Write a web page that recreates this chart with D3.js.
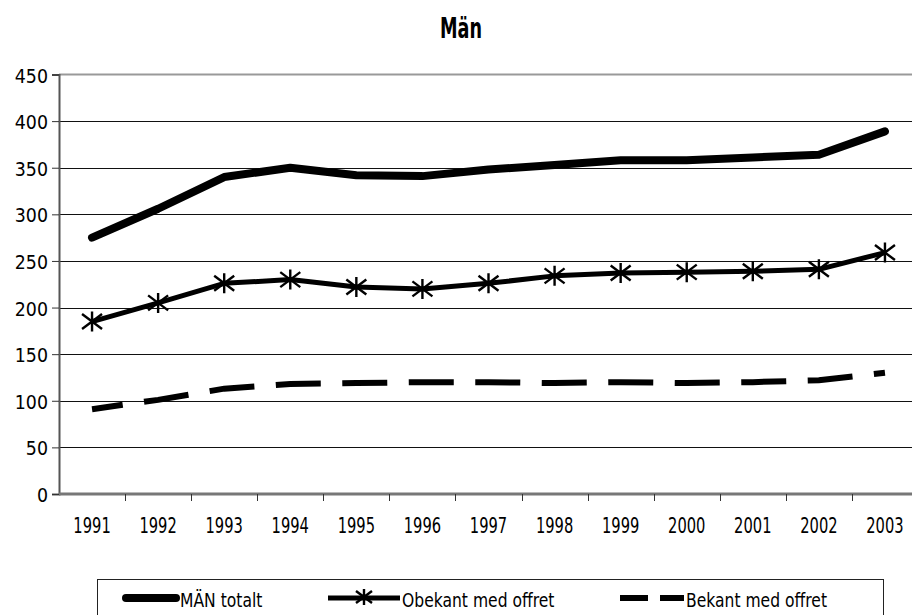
<!DOCTYPE html>
<meta charset="utf-8">
<style>
body { margin: 0; background: #fff; }
svg text { font-family: "DejaVu Sans", sans-serif; fill: #000; }
</style>
<body>
<script src="https://cdn.jsdelivr.net/npm/d3@7"></script>
<script>
// data
var years = ["1991","1992","1993","1994","1995","1996","1997","1998","1999","2000","2001","2002","2003"];
var manTotalt = [275, 306, 340, 350, 342, 341, 348, 353, 358, 358, 361, 364, 389];
var obekant = [185, 205, 226, 230, 222, 220, 226, 234, 237, 238, 239, 241, 259];
var bekant = [91, 101, 113, 118, 119, 120, 120, 119, 120, 119, 120, 122, 130];
var yTicks = [0, 50, 100, 150, 200, 250, 300, 350, 400, 450];
var seriesNames = ["MÄN totalt", "Obekant med offret", "Bekant med offret"];

var width = 912, height = 615;
var plotLeft = 59, plotRight = 918, plotTop = 74.5, plotBottom = 494;

var svg = d3.select("body").append("svg")
    .attr("width", width)
    .attr("height", height);

var x = d3.scaleBand().domain(years).range([plotLeft, plotRight]).paddingInner(0).paddingOuter(0);
var y = d3.scaleLinear().domain([0, 450]).range([plotBottom, plotTop]);
var cx = function(d) { return x(d) + x.bandwidth() / 2; };

// title (condensed look via horizontal scale)
svg.append("text")
    .attr("transform", "translate(461,38) scale(0.63,1)")
    .attr("text-anchor", "middle")
    .style("font-size", "28px").style("font-weight", "bold")
    .text("Män");

// gridlines
svg.append("g").selectAll("line")
    .data(yTicks.filter(function(d) { return d > 0 && d < 450; }))
  .enter().append("line")
    .attr("x1", plotLeft).attr("x2", width)
    .attr("y1", function(d) { return Math.round(y(d)) + 0.5; })
    .attr("y2", function(d) { return Math.round(y(d)) + 0.5; })
    .attr("stroke", "#111")
    .attr("stroke-width", 1);
svg.append("line")
    .attr("x1", plotLeft).attr("x2", width)
    .attr("y1", y(450)).attr("y2", y(450))
    .attr("stroke", "#999").attr("stroke-width", 2);

// y axis
var yAxis = svg.append("g")
    .attr("transform", "translate(" + plotLeft + ",0)")
    .call(d3.axisLeft(y).tickValues(yTicks).tickSize(7));
yAxis.select(".domain").attr("stroke", "#555").attr("stroke-width", 2);
yAxis.selectAll(".tick line").attr("stroke", "#333");
yAxis.selectAll("text")
    .attr("x", null).attr("dy", null)
    .attr("transform", "translate(-11,7.5) scale(0.87,1)")
    .style("font-size", "20px");

// x axis
var xAxis = svg.append("g")
    .attr("transform", "translate(0," + plotBottom + ")")
    .call(d3.axisBottom(x).tickSize(0));
xAxis.select(".domain").remove();
xAxis.selectAll("text")
    .attr("y", null).attr("dy", null)
    .attr("transform", "translate(0,39) scale(0.7,1)")
    .style("font-size", "21px");
svg.append("line")
    .attr("x1", plotLeft).attr("x2", width)
    .attr("y1", plotBottom).attr("y2", plotBottom)
    .attr("stroke", "#777").attr("stroke-width", 3);
svg.append("g").selectAll("line")
    .data(years.slice(1))
  .enter().append("line")
    .attr("x1", function(d) { return Math.round(x(d)) + 0.5; })
    .attr("x2", function(d) { return Math.round(x(d)) + 0.5; })
    .attr("y1", plotBottom).attr("y2", plotBottom + 7)
    .attr("stroke", "#333");

var line = d3.line()
    .x(function(d, i) { return cx(years[i]); })
    .y(function(d) { return y(d); });

// MÄN totalt
svg.append("path")
    .attr("d", line(manTotalt))
    .attr("fill", "none").attr("stroke", "#000")
    .attr("stroke-width", 8).attr("stroke-linecap", "round").attr("stroke-linejoin", "round");

// Bekant med offret
svg.append("path")
    .attr("d", line(bekant))
    .attr("fill", "none").attr("stroke", "#000")
    .attr("stroke-width", 6).attr("stroke-dasharray", "45,21.5").attr("stroke-dashoffset", 14);

// Obekant med offret
svg.append("path")
    .attr("d", line(obekant))
    .attr("fill", "none").attr("stroke", "#000")
    .attr("stroke-width", 5).attr("stroke-linejoin", "round");

function star(g, px, py, r) {
  var p = "M" + px + "," + (py - r) + "V" + (py + r) +
    "M" + (px - r) + "," + (py - r * 0.75) + "L" + (px + r) + "," + (py + r * 0.75) +
    "M" + (px - r) + "," + (py + r * 0.75) + "L" + (px + r) + "," + (py - r * 0.75);
  g.append("path").attr("d", p).attr("stroke", "#000").attr("stroke-width", 2.4).attr("fill", "none");
}
var stars = svg.append("g");
obekant.forEach(function(v, i) { star(stars, cx(years[i]), y(v), 10); });

// legend
var leg = svg.append("g");
leg.append("rect")
    .attr("x", 97.5).attr("y", 579.5).attr("width", 786).attr("height", 60)
    .attr("fill", "#fff").attr("stroke", "#222");
var ly = 598;
leg.append("line").attr("x1", 126).attr("x2", 176).attr("y1", ly).attr("y2", ly)
    .attr("stroke", "#000").attr("stroke-width", 8).attr("stroke-linecap", "round");
leg.append("line").attr("x1", 328).attr("x2", 400).attr("y1", ly).attr("y2", ly)
    .attr("stroke", "#000").attr("stroke-width", 5);
star(leg, 364, ly - 1, 8);
leg.append("line").attr("x1", 620).attr("x2", 684).attr("y1", ly).attr("y2", ly)
    .attr("stroke", "#000").attr("stroke-width", 6).attr("stroke-dasharray", "28,12");
var lx = [180, 402, 686];
seriesNames.forEach(function(n, i) {
  leg.append("text")
      .attr("transform", "translate(" + lx[i] + ",606.5) scale(0.82,1)")
      .style("font-size", "19px").text(n);
});
</script>
</body>
